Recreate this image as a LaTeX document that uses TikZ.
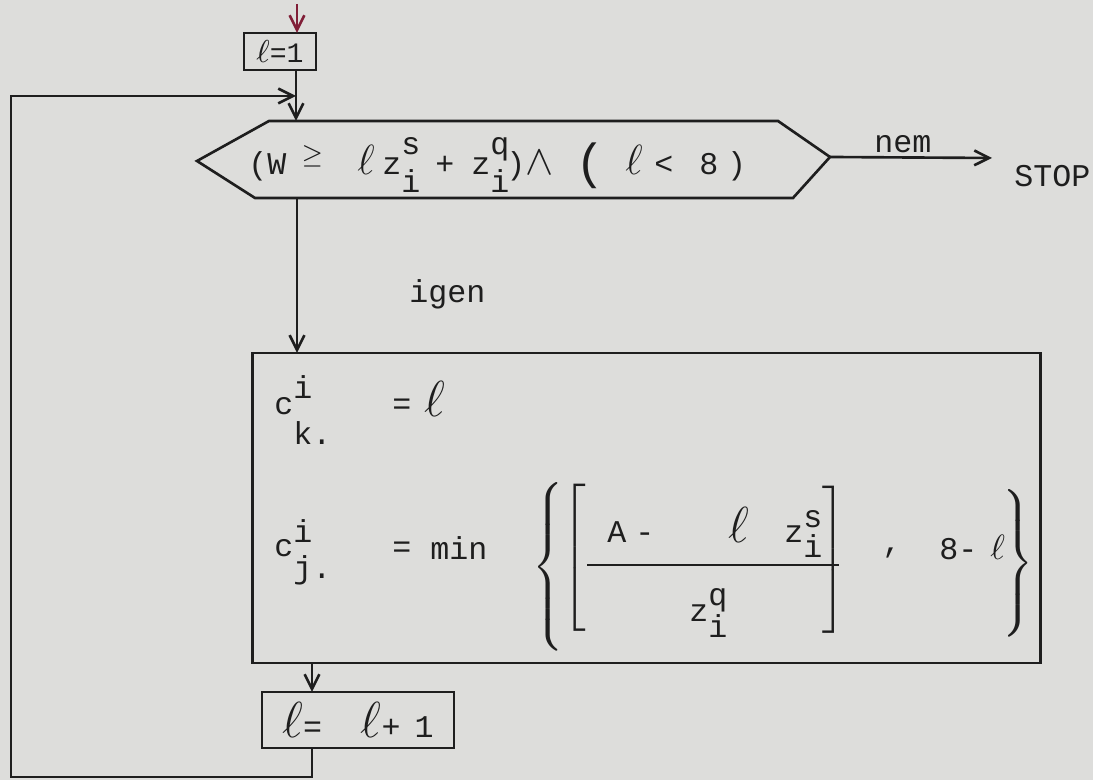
\documentclass[tikz,border=0pt]{standalone}
\usepackage{fontspec}
\setmonofont{Liberation Mono}
\usetikzlibrary{arrows.meta}

\definecolor{paper}{RGB}{221,221,219}
\definecolor{ink}{RGB}{30,30,30}
\definecolor{redpen}{RGB}{128,30,55}

% base with raised and lowered index, typewriter style
\newcommand{\ix}[5]{#1\rlap{\raisebox{#4}{#2}}\raisebox{-#5}{#3}}
\newcommand{\ellx}[1]{{\fontsize{#1}{#1}\selectfont$\ell$}}
\newcommand{\tall}[2]{$\nulldelimiterspace=0pt\delimitershortfall=0pt\left#1\vcenter{\hbox{\rule{0pt}{#2}}}\right.$}

\begin{document}
\begin{tikzpicture}[x=0.01cm,y=-0.01cm,>={Straight Barb[length=4.2pt,width=4.2pt]},
  font=\fontsize{9}{11}\selectfont\ttfamily,color=ink,line width=0.75pt,
  box/.style={draw,inner sep=0pt,outer sep=0pt},
  txt/.style={inner sep=0pt,anchor=base west},
  delim/.style={inner sep=0pt}]
  \fill[paper] (0,0) rectangle (1093,780);
  \useasboundingbox (0,0) rectangle (1093,780);

  % start
  \coordinate (start) at (297,4);
  \node[box,minimum width=0.72cm,minimum height=0.37cm,font=\fontsize{8}{9}\selectfont\ttfamily]
    (init) at (280,51.5) {\ellx{9}=1};
  \draw[->,redpen] (start) -- (init.north -| start);

  % test
  \coordinate (join) at (296,96);
  \coordinate (testN) at (296,121);
  \coordinate (testS) at (297,198);
  \coordinate (testE) at (830,157);
  \draw (197,161) -- (269,121) -- (778,121) -- (testE) -- (793,198) -- (255,198) -- cycle;
  \node[txt] (c1) at (247,175) {(W};
  \node[txt] (c2) at (300,163) {\fontsize{7}{7}\selectfont$\geq$};
  \node[txt] (c3) at (356,175) {\ellx{12}};
  \node[txt] (c4) at (381,175) {\ix{z}{s}{i}{5.7pt}{5.1pt}};
  \node[txt] (c5) at (434,175) {+};
  \node[txt] (c6) at (470,175) {\ix{z}{q}{i}{5.7pt}{5.1pt}\kern-0.8pt)};
  \node[txt] (c7) at (524,175) {\fontsize{12}{12}\selectfont$\wedge$};
  \node[txt] (c8) at (574,179) {\fontsize{14}{14}\selectfont(};
  \node[txt] (c9) at (624,175) {\ellx{12}};
  \node[txt] (c10) at (653,175) {<};
  \node[txt] (c11) at (698,175) {8\kern2.5pt)};

  \draw (init.south -| join) -- (join);
  \draw[->] (join) -- (testN);

  % nem
  \coordinate (stopin) at (992,158);
  \node[txt] (stop) at (1013,187) {STOP};
  \draw[->] (testE) -- node[above,inner sep=1pt,pos=0.45] (nem) {nem} (stopin);

  % igen
  \node[box,minimum width=7.87cm,minimum height=3.10cm] (assign) at (646.5,508) {};
  \draw[->] (testS) -- (assign.north -| testS);
  \node[txt] (igen) at (408,303) {igen};

  % c_k
  \node[txt] (ck) at (273,415) {\ix{c}{i}{k.}{4.8pt}{8.5pt}};
  \node[txt] (eq1) at (391,415) {=};
  \node[txt] (l1) at (423,417) {\ellx{14}};

  % c_j
  \node[txt] (cj) at (273,557) {\ix{c}{i}{j.}{4pt}{6pt}};
  \node[txt] (eq2) at (391,558) {=};
  \node[txt] (min) at (429,560) {min};
  \node[delim] (lbr) at (548,567) {\tall{\{}{45pt}};
  \node[delim] (lsq) at (574,558) {\tall{[}{42pt}};
  \node[txt] (num1) at (606,543) {A\kern2.6pt-};
  \node[txt] (num2) at (727,543) {\ellx{15}};
  \node[txt] (num3) at (783,543) {\ix{z}{s}{i}{4.5pt}{4pt}};
  \draw (587,565) -- (839,565);
  \node[txt] (den) at (688,622) {\ix{z}{q}{i}{4.8pt}{4.5pt}};
  \node[delim] (rsq) at (834,560) {\tall{]}{42pt}};
  \node[txt] (comma) at (881,553) {,};
  \node[txt] (eight) at (938,560) {8-};
  \node[txt] (l3) at (989,560) {\ellx{10}};
  \node[delim] (rbr) at (1018,563) {\tall{\}}{41pt}};

  % l = l + 1
  \coordinate (loopx) at (312,0);
  \node[box,minimum width=1.92cm,minimum height=0.56cm] (incr) at (358,720)
    {\ellx{15}=\kern11pt\ellx{15}+\kern4pt 1};
  \draw[->] (assign.south -| loopx) -- (incr.north -| loopx);

  % back to test
  \coordinate (back) at (312,777);
  \coordinate (corner1) at (11,777);
  \coordinate (corner2) at (11,96);
  \draw[->] (incr.south -| back) -- (back) -- (corner1) -- (corner2) -- (join);
\end{tikzpicture}
\end{document}
